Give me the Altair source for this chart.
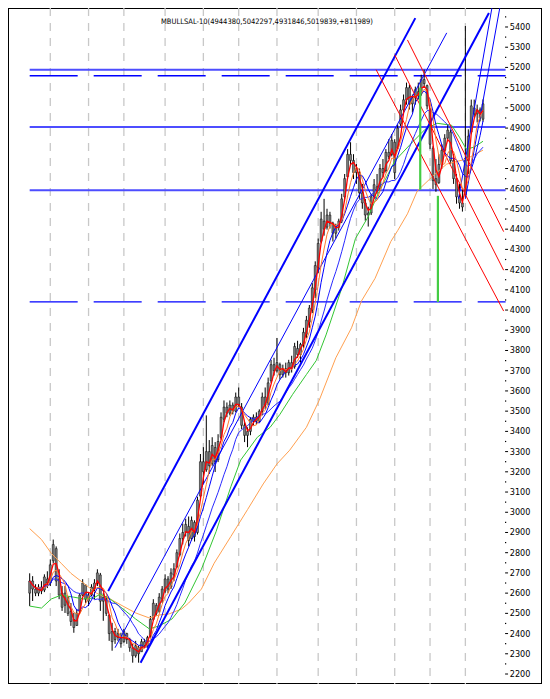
import altair as alt
import pandas as pd

# ---------------- data ----------------
opens = [2600, 2660, 2620, 2600, 2630, 2615, 2670, 2650, 2760, 2820,
         2670, 2600, 2540, 2580, 2510, 2470, 2440, 2510, 2590, 2640,
         2560, 2590, 2620, 2650, 2690, 2560, 2570, 2490, 2410, 2370,
         2400, 2380, 2360, 2400, 2370, 2330, 2290, 2330, 2310, 2360,
         2340, 2390, 2470, 2540, 2510, 2570, 2610, 2670, 2630, 2690,
         2730, 2790, 2870, 2900, 2930, 2870, 2950, 2900, 3080, 3250,
         3210, 3300, 3240, 3320, 3260, 3370, 3460, 3520, 3490, 3530,
         3500, 3570, 3520, 3430, 3380, 3400, 3450, 3470, 3450, 3500,
         3570, 3540, 3650, 3730, 3700, 3730, 3680, 3710, 3690, 3740,
         3720, 3810, 3780, 3830, 3880, 3940, 4000, 4100, 4210, 4340,
         4440, 4410, 4470, 4430, 4380, 4410, 4440, 4560, 4660, 4770,
         4740, 4680, 4680, 4580, 4530, 4470, 4480, 4560, 4610, 4600,
         4700, 4690, 4780, 4770, 4830, 4800, 4920, 4990, 5040, 5100,
         5020, 5050, 5080, 5070, 5140, 5110, 4990, 4800, 4650, 4630,
         4720, 4790, 4850, 4880, 4740, 4650, 4560, 4530, 4570, 4740,
         4880, 5000, 4970, 4990, 4944]
highs = [2698, 2684, 2644, 2644, 2659, 2693, 2708, 2767, 2865, 2831,
         2718, 2635, 2635, 2585, 2551, 2502, 2522, 2600, 2669, 2645,
         2600, 2644, 2669, 2718, 2700, 2600, 2585, 2495, 2453, 2428,
         2423, 2404, 2423, 2404, 2379, 2349, 2364, 2340, 2374, 2374,
         2389, 2487, 2570, 2551, 2600, 2635, 2693, 2684, 2723, 2748,
         2816, 2895, 2944, 2968, 2979, 2979, 2960, 3077, 3288, 3322,
         3479, 3357, 3371, 3347, 3386, 3494, 3553, 3543, 3553, 3543,
         3592, 3617, 3540, 3445, 3420, 3470, 3484, 3494, 3509, 3592,
         3617, 3666, 3754, 3764, 3862, 3740, 3730, 3740, 3754, 3774,
         3838, 3848, 3838, 3912, 3971, 4025, 4133, 4241, 4354, 4486,
         4550, 4501, 4486, 4437, 4427, 4452, 4575, 4673, 4796, 4830,
         4771, 4722, 4700, 4624, 4550, 4511, 4575, 4648, 4673, 4722,
         4747, 4796, 4845, 4870, 4845, 4918, 5016, 5066, 5125, 5115,
         5066, 5105, 5125, 5164, 5189, 5115, 5000, 4810, 4747, 4771,
         4820, 4870, 4918, 4894, 4771, 4673, 4624, 4599, 5405, 4894,
         5041, 5041, 5016, 5002, 5042]
lows = [2536, 2561, 2585, 2585, 2595, 2605, 2625, 2635, 2748, 2635,
        2570, 2512, 2502, 2487, 2438, 2404, 2438, 2502, 2585, 2551,
        2536, 2585, 2570, 2635, 2512, 2463, 2487, 2364, 2315, 2349,
        2364, 2330, 2355, 2349, 2310, 2256, 2281, 2256, 2310, 2330,
        2330, 2379, 2463, 2487, 2502, 2551, 2600, 2600, 2620, 2659,
        2723, 2782, 2841, 2880, 2831, 2860, 2855, 2890, 3070, 3140,
        3200, 3190, 3230, 3199, 3248, 3360, 3445, 3470, 3479, 3484,
        3494, 3519, 3411, 3347, 3322, 3381, 3430, 3435, 3445, 3479,
        3509, 3530, 3640, 3676, 3691, 3656, 3666, 3666, 3676, 3691,
        3710, 3764, 3740, 3813, 3862, 3912, 3985, 4059, 4182, 4330,
        4368, 4398, 4403, 4339, 4354, 4393, 4430, 4550, 4650, 4722,
        4648, 4624, 4550, 4501, 4442, 4413, 4470, 4550, 4575, 4590,
        4658, 4680, 4747, 4760, 4648, 4796, 4910, 4968, 5016, 4992,
        4977, 5016, 5041, 5060, 5100, 4992, 4796, 4599, 4585, 4624,
        4698, 4771, 4845, 4722, 4624, 4526, 4501, 4487, 4560, 4673,
        4870, 4953, 4928, 4933, 4932]
closes = [2660, 2620, 2600, 2630, 2610, 2680, 2650, 2740, 2840, 2660,
          2590, 2530, 2600, 2500, 2460, 2430, 2500, 2590, 2650, 2570,
          2590, 2630, 2650, 2700, 2560, 2580, 2500, 2400, 2360, 2410,
          2380, 2350, 2410, 2370, 2330, 2290, 2340, 2300, 2360, 2340,
          2380, 2470, 2550, 2500, 2580, 2620, 2670, 2620, 2700, 2720,
          2800, 2870, 2900, 2940, 2860, 2960, 2880, 3060, 3250, 3200,
          3300, 3230, 3330, 3250, 3350, 3470, 3520, 3490, 3530, 3500,
          3570, 3530, 3430, 3380, 3400, 3460, 3470, 3450, 3500, 3570,
          3530, 3640, 3730, 3700, 3740, 3680, 3710, 3690, 3740, 3710,
          3820, 3780, 3830, 3890, 3950, 4010, 4110, 4220, 4330, 4450,
          4400, 4470, 4430, 4380, 4410, 4440, 4550, 4650, 4770, 4740,
          4680, 4700, 4580, 4530, 4470, 4480, 4560, 4620, 4590, 4700,
          4680, 4780, 4760, 4840, 4680, 4900, 4990, 5040, 5100, 5020,
          5050, 5090, 5060, 5140, 5120, 5010, 4820, 4640, 4620, 4720,
          4790, 4850, 4890, 4740, 4650, 4560, 4530, 4510, 4750, 4860,
          5010, 4970, 4990, 4950, 5020]

# long moving averages (bar index / value)
green_i = [0, 4, 7.33, 10.67, 15, 18.33, 21.67, 24, 27.33, 31.67, 36, 40.67, 44, 48.33,
           52.67, 58.33, 63.33, 68.33, 71.67, 77.33, 81.67, 85, 89.33, 94, 97.33, 100.67,
           106, 110.67, 115, 118.33, 124, 129.33, 134.33, 138.33, 143.33, 146, 148.33, 151, 154]
green_v = [2536, 2526, 2571, 2590, 2580, 2571, 2576, 2595, 2571, 2522, 2472, 2423, 2438, 2472,
           2551, 2718, 2905, 3126, 3258, 3371, 3420, 3484, 3583, 3681, 3750, 3877,
           4108, 4354, 4462, 4575, 4737, 4820, 4894, 4924, 4914, 4855, 4796, 4806, 4835]
sandy_i = [0, 4, 7.33, 10.67, 14, 18.33, 22.67, 27.33, 31.67, 36, 40.67, 44, 47.33, 51.67,
           54, 58.33, 62.67, 68.33, 74, 79.33, 84, 88.33, 94, 98.33, 104, 109.33, 112.67,
           117.33, 122.67, 125, 128.33, 131.67, 137.33, 141.67, 148.33, 154]
sandy_v = [2919, 2865, 2797, 2748, 2698, 2649, 2600, 2571, 2536, 2502, 2477, 2492, 2497, 2522,
           2551, 2620, 2748, 2880, 3013, 3140, 3239, 3307, 3420, 3553, 3764, 3912, 4044,
           4157, 4339, 4393, 4476, 4589, 4668, 4722, 4747, 4791]

# trend lines: name, start index, start value, end index, end value
thick_lines = [("A", 26.67, 2610, 131.0, 5444), ("B", 37.67, 2256, 156.0, 5469)]
thin_lines = [("C", 29.0, 2330, 141.67, 5371), ("S1", 145.67, 4550, 157.0, 5493),
              ("S2", 148.0, 4550, 159.67, 5493)]
red_lines = [("R1", 128.33, 5336, 161.0, 4388), ("R2", 124.0, 5262, 161.0, 4197),
             ("R3", 117.67, 5189, 161.0, 3995)]
green_marks = [(132.67, 5100, 4595), (138.67, 4565, 4040)]

solid_levels = [5189, 4905, 4593]
dashed_levels = [5159, 4040]
level_start, level_end = 0, 161.67
month_starts = [7, 20, 32, 46, 59, 71, 84, 98, 111, 124, 136, 148]
tick_values = list(range(2200, 5401, 100))
minor_values = list(range(2250, 5451, 100))
title_text = "MBULLSAL-10(4944380,5042297,4931846,5019839,+811989)"

FONT = "Liberation Sans Narrow, DejaVu Sans Condensed, Liberation Sans, sans-serif"

# ---------------- frames ----------------
bars = pd.DataFrame({"i": list(range(len(closes))), "o": opens, "h": highs,
                     "l": lows, "c": closes})
green_df = pd.DataFrame({"i": green_i, "v": green_v})
sandy_df = pd.DataFrame({"i": sandy_i, "v": sandy_v})


def seg_frame(lines):
    rows = []
    for name, i0, v0, i1, v1 in lines:
        rows.append({"seg": name, "i": i0, "v": v0})
        rows.append({"seg": name, "i": i1, "v": v1})
    return pd.DataFrame(rows)


thick_df = seg_frame(thick_lines)
thin_df = seg_frame(thin_lines)
red_df = seg_frame(red_lines)
gmark_df = pd.DataFrame([{"i": a, "v": b, "v2": c} for a, b, c in green_marks])
solid_df = pd.DataFrame({"v": solid_levels, "i": level_start, "i2": level_end})
dashed_df = pd.DataFrame({"v": dashed_levels, "i": level_start, "i2": level_end})
grid_df = pd.DataFrame({"i": month_starts})
minor_df = pd.DataFrame({"v": minor_values, "i": level_end})
ticks_df = pd.DataFrame({"v": tick_values, "i": level_end - 0.17, "i2": level_end + 0.83,
                         "il": level_end + 1.4, "t": [str(v) for v in tick_values]})

W, H = 534, 676
PX = 0.20219  # pixels per price unit
xs = alt.Scale(domain=[-5.6667, -5.6667 + W / 3.0], nice=False, zero=False)
ys = alt.Scale(domain=[2200 - 10 / PX, 5400 + 19 / PX], nice=False, zero=False)


def X(f="i"):
    return alt.X(f, type="quantitative", scale=xs, axis=None)


def Y(f="v"):
    return alt.Y(f, type="quantitative", scale=ys, axis=None)


grid = alt.Chart(grid_df).mark_rule(color="#c8c8c8", strokeWidth=1.3,
                                    strokeDash=[8, 7]).encode(x=X())
solid = alt.Chart(solid_df).mark_rule(color="#4d4dff", strokeWidth=2).encode(
    x=X(), x2="i2", y=Y())
dashed = alt.Chart(dashed_df).mark_rule(color="#0000ff", strokeWidth=1.3,
                                        strokeDash=[48, 16]).encode(x=X(), x2="i2", y=Y())

wick = alt.Chart(bars).mark_rule(color="black", strokeWidth=1, clip=True).encode(
    x=X(), y=Y("l"), y2="h")
body = alt.Chart(bars).mark_bar(size=2, color="#808080", stroke="black",
                                strokeWidth=0.5, clip=True).encode(x=X(), y=Y("o"), y2="c")

sandy = alt.Chart(sandy_df).mark_line(color="#ffa050", strokeWidth=1, clip=True).encode(
    x=X(), y=Y())
green = alt.Chart(green_df).mark_line(color="#33c633", strokeWidth=1, clip=True).encode(
    x=X(), y=Y())


def ma(frame, color, width):
    return alt.Chart(bars).transform_window(
        m="mean(c)", frame=[-frame, 0], sort=[alt.SortField("i")]
    ).mark_line(color=color, strokeWidth=width, clip=True).encode(x=X(), y=Y("m"))


blue2 = ma(13, "#2a2aff", 1)
blue1 = ma(6, "#0000ff", 1)
orange = ma(4, "#ff7a30", 1)
red = ma(2, "#ff0000", 1.3)

thick = alt.Chart(thick_df).mark_line(color="#0000ff", strokeWidth=2, clip=True).encode(
    x=X(), y=Y(), detail="seg:N")
thin = alt.Chart(thin_df).mark_line(color="#0000ff", strokeWidth=1, clip=True).encode(
    x=X(), y=Y(), detail="seg:N")
reds = alt.Chart(red_df).mark_line(color="#ff0000", strokeWidth=1, clip=True).encode(
    x=X(), y=Y(), detail="seg:N")
gmarks = alt.Chart(gmark_df).mark_rule(color="#44cc44", strokeWidth=2.2).encode(
    x=X(), y=Y(), y2="v2")

minor = alt.Chart(minor_df).mark_square(size=1.5, color="black", opacity=1,
                                        clip=True).encode(x=X(), y=Y())
tick_marks = alt.Chart(ticks_df).mark_rule(color="black", strokeWidth=1).encode(
    x=X(), x2="i2", y=Y())
tick_labels = alt.Chart(ticks_df).mark_text(
    font=FONT, fontSize=9, color="black", align="left", baseline="middle"
).encode(x=X("il"), y=Y(), text="t:N")

title = alt.Chart(pd.DataFrame({"t": [title_text]})).mark_text(
    font=FONT, fontSize=7.5, color="black", align="center", baseline="middle"
).encode(text="t:N", x=alt.value(259), y=alt.value(13.5))

chart = alt.layer(
    grid, solid, dashed, wick, body, sandy, green, blue2, blue1, thick, thin, reds,
    orange, red, gmarks, minor, tick_marks, tick_labels, title
).properties(
    width=W, height=H, padding=0,
    autosize=alt.AutoSizeParams(type="none"),
    background="white",
).configure_view(stroke="black", strokeWidth=2)

chart.save("out.html", embed_options={"renderer": "svg", "actions": False})
